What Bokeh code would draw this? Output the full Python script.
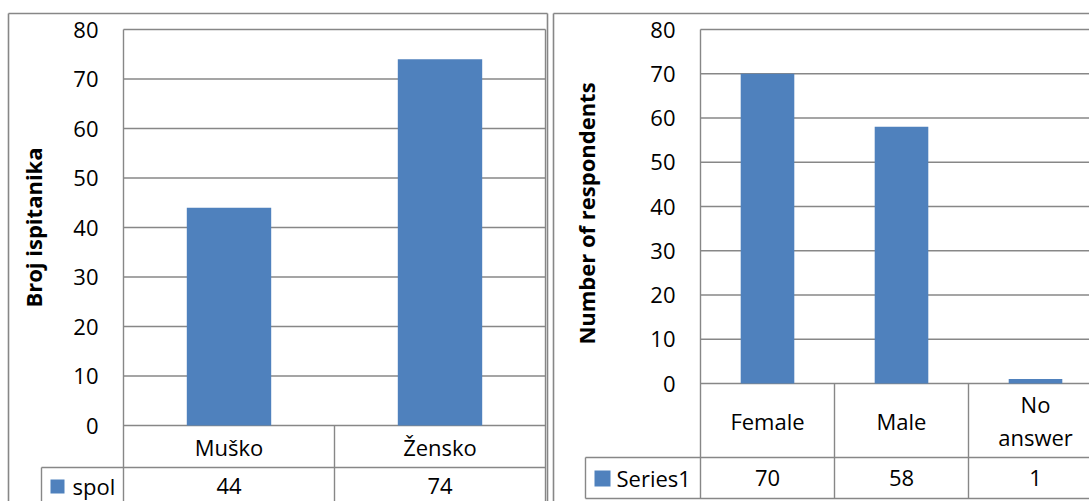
import math
from bokeh.plotting import figure
from bokeh.layouts import row
from bokeh.models import Range1d, FixedTicker, LinearAxis
from bokeh.core.properties import value
from bokeh.embed import file_html
from bokeh.resources import INLINE

# ---------------- data ----------------
left_categories = ["Muško", "Žensko"]
left_values = [44, 74]
left_series = "spol"
left_ylabel = "Broj ispitanika"

right_categories = ["Female", "Male", "No\nanswer"]
right_values = [70, 58, 1]
right_series = "Series1"
right_ylabel = "Number of respondents"

y_ticks = [0, 10, 20, 30, 40, 50, 60, 70, 80]

# ---------------- style ----------------
BAR = "#4F81BD"
GRID = "#878787"
FONT = "Open Sans"
FS = "22px"
PAGE_TOP = 0
PAGE_BOTTOM = 501


def make_chart(cats, vals, series, ylabel, g):
    ymax = y_ticks[-1]
    n = len(cats)
    pl, pt, pb, cw = g["plot_left"], g["plot_top"], g["plot_bottom"], g["col_w"]

    def X(px):
        return (px - pl) / cw

    def Y(py):
        return ymax * (pb - py) / (pb - pt)

    cx0 = g["canvas_x"]
    cx1 = cx0 + g["canvas_w"]

    p = figure(width=g["canvas_w"], height=PAGE_BOTTOM - PAGE_TOP,
               x_range=Range1d(X(cx0), X(cx1)),
               y_range=Range1d(Y(PAGE_BOTTOM), Y(PAGE_TOP)),
               output_backend="svg", toolbar_location=None, title=None,
               x_axis_location=None, y_axis_location=None,
               min_border_left=0, min_border_right=0,
               min_border_top=0, min_border_bottom=0)
    p.outline_line_color = None
    p.background_fill_color = "white"
    p.border_fill_color = "white"
    for gr in p.grid:
        gr.visible = False

    # y axis fixed at the plot-area's left edge
    ax = LinearAxis(fixed_location=0, ticker=FixedTicker(ticks=y_ticks))
    ax.axis_line_color = None
    ax.major_tick_out = 0
    ax.major_tick_in = 0
    ax.minor_tick_out = 0
    ax.minor_tick_in = 0
    ax.major_label_standoff = pl - g["label_right"]
    ax.major_label_text_font = FONT
    ax.major_label_text_font_size = FS
    ax.major_label_text_color = "black"
    p.add_layout(ax, "left")

    # axis title (rotated)
    p.text(x=[X(g["title_x"])], y=[Y(g["title_y"])], text=[ylabel], angle=math.pi / 2,
           text_align="center", text_baseline="middle", text_font=value(FONT),
           text_font_style="bold", text_font_size=FS, text_color="black")

    hb, db = Y(g["header_bottom"]), Y(g["data_bottom"])
    lx = X(g["legend_left"])
    row_y = Y(g["data_text_y"])

    # gridlines (at tick values) and plot-area / table borders
    x0s, y0s, x1s, y1s = [], [], [], []
    for t in y_ticks:
        x0s.append(0); x1s.append(n); y0s.append(t); y1s.append(t)
    for xv in (0, n):                       # plot-area + table sides
        x0s.append(xv); x1s.append(xv); y0s.append(db); y1s.append(ymax)
    for i in range(1, n):                   # column dividers in table
        x0s.append(i); x1s.append(i); y0s.append(db); y1s.append(0)
    for yv in (hb, db):                     # table row borders
        x0s.append(lx); x1s.append(n); y0s.append(yv); y1s.append(yv)
    x0s.append(lx); x1s.append(lx); y0s.append(db); y1s.append(hb)
    p.segment(x0=x0s, y0=y0s, x1=x1s, y1=y1s, line_color=GRID, line_width=1.4)

    # outer chart border
    bx0, by0, bx1 = X(g["border"][0]), Y(g["border"][1]), X(g["border"][2])
    ybot = Y(PAGE_BOTTOM + 60)
    p.segment(x0=[bx0, bx0, bx1], y0=[ybot, by0, ybot], x1=[bx0, bx1, bx1], y1=[by0, by0, by0],
              line_color=GRID, line_width=1.6)

    # bars
    xs = [i + 0.5 for i in range(n)]
    p.vbar(x=xs, top=vals, bottom=0, width=0.4, fill_color=BAR, line_color=None)

    # category texts and value texts
    p.text(x=xs, y=[(0 + hb) / 2] * n, text=cats, text_align="center",
           text_baseline="middle", text_font=value(FONT), text_font_size=FS,
           text_color="black", text_line_height=1.1)
    p.text(x=xs, y=[row_y] * n, text=[str(v) for v in vals],
           text_align="center", text_baseline="middle", text_font=value(FONT),
           text_font_size=FS, text_color="black")

    # legend key of the data table
    sq = g["square"]
    p.quad(left=[X(sq[0])], right=[X(sq[1])], top=[Y(sq[2])], bottom=[Y(sq[3])],
           fill_color=BAR, line_color=None)
    p.text(x=[X(g["series_x"])], y=[row_y], text=[series], text_align="left",
           text_baseline="middle", text_font=value(FONT), text_font_size=FS,
           text_color="black")
    return p


left_geom = dict(canvas_x=0, canvas_w=550, plot_left=123, plot_top=29, plot_bottom=425,
                 col_w=211, label_right=98, title_x=32, title_y=227,
                 header_bottom=467, data_bottom=508, data_text_y=485, legend_left=41,
                 square=(50, 64, 479, 493), series_x=72, border=(8, 13, 547))
right_geom = dict(canvas_x=550, canvas_w=539, plot_left=700, plot_top=29, plot_bottom=383,
                  col_w=134, label_right=675, title_x=585, title_y=213,
                  header_bottom=457, data_bottom=498, data_text_y=477.5, legend_left=585,
                  square=(594, 610, 470, 486), series_x=616, border=(553, 13, 1300))

pL = make_chart(left_categories, left_values, left_series, left_ylabel, left_geom)
pR = make_chart(right_categories, right_values, right_series, right_ylabel, right_geom)

layout = row(pL, pR, spacing=0)
open("out.html", "w").write(file_html(layout, INLINE))
